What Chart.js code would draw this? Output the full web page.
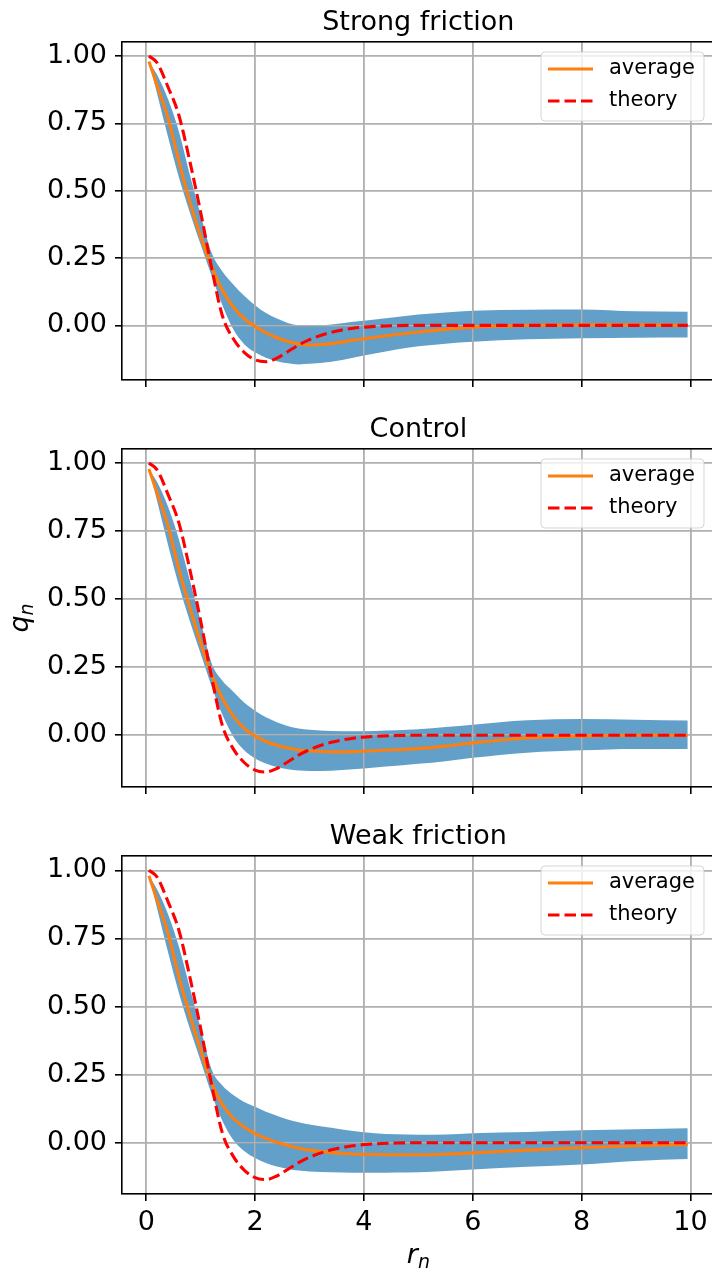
<!DOCTYPE html>
<html>
<head>
<meta charset="utf-8">
<script src="https://cdn.jsdelivr.net/npm/chart.js@4.4.1/dist/chart.umd.min.js"></script>
<style>
  body { margin: 0; background: #fff; }
  #fig { position: relative; width: 712px; height: 1272px; overflow: hidden; background: #fff; }
  #fig canvas { position: absolute; left: 0; }
</style>
</head>
<body>
<div id="fig">
  <canvas id="strongChart" width="716" height="407" style="top:0px"></canvas>
  <canvas id="controlChart" width="716" height="407" style="top:407px"></canvas>
  <canvas id="weakChart" width="716" height="458" style="top:814px"></canvas>
</div>
<script>
// r_n sample positions (shared by every panel)
const rValues = [0.05, 0.2, 0.4, 0.6, 0.8, 1.0, 1.2, 1.4, 1.6, 1.8, 2.0, 2.2, 2.4, 2.6, 2.8, 3.0,
                 3.4, 3.8, 4.2, 4.6, 5.0, 5.5, 6.0, 7.0, 8.0, 9.0, 9.95];

// theory curve, same in all three panels
const theory = [1.0, 0.975, 0.885, 0.78, 0.61, 0.42, 0.215, 0.035, -0.05, -0.10, -0.128, -0.135, -0.122, -0.098, -0.073, -0.053,
                -0.026, -0.011, -0.004, -0.001, 0, 0, 0, 0, 0, 0, 0];

// Strong friction
const strongAvg = [0.98, 0.89, 0.77, 0.61, 0.46, 0.33, 0.22, 0.13, 0.068, 0.025, -0.004, -0.028, -0.046, -0.06, -0.069, -0.073,
                   -0.068, -0.055, -0.044, -0.034, -0.025, -0.015, -0.007, 0.0, 0.002, 0.002, 0.0];
const strongUpper = [0.98, 0.93, 0.84, 0.72, 0.56, 0.41, 0.27, 0.20, 0.152, 0.11, 0.075, 0.046, 0.025, 0.009, 0.0, -0.002,
                     0.003, 0.013, 0.022, 0.031, 0.04, 0.048, 0.054, 0.058, 0.059, 0.052, 0.05];
const strongLower = [0.98, 0.86, 0.70, 0.55, 0.42, 0.30, 0.185, 0.075, -0.015, -0.07, -0.10, -0.12, -0.133, -0.141, -0.145, -0.143,
                     -0.135, -0.12, -0.105, -0.09, -0.078, -0.068, -0.061, -0.052, -0.048, -0.046, -0.045];

// Control
const controlAvg = [0.978, 0.89, 0.77, 0.61, 0.47, 0.34, 0.225, 0.135, 0.07, 0.025, -0.003, -0.023, -0.037, -0.047, -0.054, -0.058,
                    -0.061, -0.06, -0.057, -0.053, -0.049, -0.04, -0.028, -0.01, -0.003, 0.0, 0.0];
const controlUpper = [0.978, 0.93, 0.84, 0.72, 0.57, 0.42, 0.265, 0.20, 0.16, 0.12, 0.09, 0.066, 0.048, 0.034, 0.025, 0.02,
                      0.016, 0.015, 0.016, 0.018, 0.022, 0.03, 0.039, 0.055, 0.06, 0.057, 0.054];
const controlLower = [0.978, 0.86, 0.70, 0.55, 0.42, 0.30, 0.18, 0.075, -0.005, -0.055, -0.085, -0.104, -0.117, -0.125, -0.129, -0.131,
                      -0.13, -0.125, -0.118, -0.112, -0.105, -0.095, -0.083, -0.064, -0.055, -0.05, -0.05];

// Weak friction
const weakAvg = [0.98, 0.89, 0.77, 0.61, 0.47, 0.34, 0.22, 0.14, 0.09, 0.058, 0.034, 0.016, 0.002, -0.01, -0.02, -0.027,
                 -0.036, -0.041, -0.043, -0.044, -0.044, -0.042, -0.037, -0.027, -0.018, -0.011, -0.006];
const weakUpper = [0.98, 0.93, 0.84, 0.72, 0.57, 0.42, 0.27, 0.21, 0.175, 0.15, 0.132, 0.114, 0.099, 0.085, 0.075, 0.067,
                   0.055, 0.043, 0.035, 0.031, 0.029, 0.03, 0.035, 0.04, 0.046, 0.05, 0.053];
const weakLower = [0.98, 0.86, 0.70, 0.55, 0.42, 0.30, 0.18, 0.08, 0.01, -0.03, -0.056, -0.074, -0.087, -0.096, -0.102, -0.105,
                   -0.108, -0.11, -0.11, -0.109, -0.108, -0.104, -0.098, -0.088, -0.08, -0.067, -0.06];

const xTicks = [0, 2, 4, 6, 8, 10];
const yTicks = [0, 0.25, 0.5, 0.75, 1.0];

const FONT = '"DejaVu Sans", sans-serif';
const GRID = '#b0b0b0';
const LW = 1.6;

function toPoints(ys) {
    return rValues.map((r, i) => ({ x: r, y: ys[i] }));
}

function alignPx(p, w) {
    const h = w / 2;
    return Math.round(p - h) + h;
}

// title, spines, legend, axis labels, and matplotlib-style grid over the band
function makeDecor(title, drawXLabel, drawYLabel) {
    return {
        id: 'panelDecor',
        afterDatasetDraw(chart, args) {
            if (args.index !== 2) return;
            const { ctx, chartArea: a, scales } = chart;
            ctx.save();
            ctx.beginPath();
            ctx.rect(a.left, a.top, a.right - a.left, a.bottom - a.top);
            ctx.clip();
            ctx.strokeStyle = GRID;
            ctx.lineWidth = LW;
            ctx.beginPath();
            xTicks.forEach(v => {
                const px = alignPx(scales.x.getPixelForValue(v), LW);
                ctx.moveTo(px, a.top);
                ctx.lineTo(px, a.bottom);
            });
            yTicks.forEach(v => {
                const py = alignPx(scales.y.getPixelForValue(v), LW);
                ctx.moveTo(a.left, py);
                ctx.lineTo(a.right, py);
            });
            ctx.stroke();
            ctx.restore();
        },
        afterDraw(chart) {
            const { ctx, chartArea: a } = chart;
            ctx.save();

            // spines
            ctx.strokeStyle = '#000';
            ctx.lineWidth = LW;
            ctx.strokeRect(alignPx(a.left, LW), alignPx(a.top, LW), a.right - a.left, alignPx(a.bottom, LW) - alignPx(a.top, LW));

            // title
            ctx.fillStyle = '#000';
            ctx.font = '27px ' + FONT;
            ctx.textAlign = 'center';
            ctx.textBaseline = 'alphabetic';
            ctx.fillText(title, (a.left + a.right) / 2, a.top - 12.5);

            // legend
            const lw = 163, lh = 69;
            const lx = a.right - 10.7 - lw, ly = a.top + 10, r = 4;
            ctx.beginPath();
            ctx.moveTo(lx + r, ly);
            ctx.arcTo(lx + lw, ly, lx + lw, ly + lh, r);
            ctx.arcTo(lx + lw, ly + lh, lx, ly + lh, r);
            ctx.arcTo(lx, ly + lh, lx, ly, r);
            ctx.arcTo(lx, ly, lx + lw, ly, r);
            ctx.closePath();
            ctx.fillStyle = 'rgba(255,255,255,0.8)';
            ctx.fill();
            ctx.strokeStyle = 'rgba(204,204,204,0.8)';
            ctx.lineWidth = 1;
            ctx.stroke();

            ctx.lineWidth = 3.1;
            ctx.strokeStyle = '#ff7f0e';
            ctx.beginPath();
            ctx.moveTo(lx + 7, ly + 17);
            ctx.lineTo(lx + 52, ly + 17);
            ctx.stroke();
            ctx.strokeStyle = '#ff0000';
            ctx.setLineDash([11.5, 5]);
            ctx.beginPath();
            ctx.moveTo(lx + 7, ly + 49);
            ctx.lineTo(lx + 52, ly + 49);
            ctx.stroke();
            ctx.setLineDash([]);

            ctx.fillStyle = '#000';
            ctx.font = '21px ' + FONT;
            ctx.textAlign = 'left';
            ctx.textBaseline = 'middle';
            ctx.fillText('average', lx + 68, ly + 17);
            ctx.fillText('theory', lx + 68, ly + 49);

            // axis labels (mathtext-like r_n, q_n)
            ctx.textBaseline = 'alphabetic';
            if (drawXLabel) {
                const cx = (a.left + a.right) / 2;
                ctx.font = 'italic 27px ' + FONT;
                const w1 = ctx.measureText('r').width;
                ctx.font = 'italic 19px ' + FONT;
                const w2 = ctx.measureText('n').width;
                const x0 = cx - (w1 + w2) / 2;
                const by = a.bottom + 69;
                ctx.font = 'italic 27px ' + FONT;
                ctx.fillText('r', x0, by);
                ctx.font = 'italic 19px ' + FONT;
                ctx.fillText('n', x0 + w1, by + 5);
            }
            if (drawYLabel) {
                const cy = (a.top + a.bottom) / 2;
                ctx.translate(28, cy);
                ctx.rotate(-Math.PI / 2);
                ctx.font = 'italic 27px ' + FONT;
                const w1 = ctx.measureText('q').width;
                ctx.font = 'italic 19px ' + FONT;
                const w2 = ctx.measureText('n').width;
                const x0 = -(w1 + w2) / 2;
                ctx.font = 'italic 27px ' + FONT;
                ctx.fillText('q', x0, 0);
                ctx.font = 'italic 19px ' + FONT;
                ctx.fillText('n', x0 + w1, 5);
            }
            ctx.restore();
        }
    };
}

function makePanel(canvasId, title, avg, upper, lower, yMin, yMax, showXTicks, xLabel, yLabel) {
    const canvas = document.getElementById(canvasId);
    const xAxisHeight = canvas.height - 380;

    new Chart(canvas.getContext('2d'), {
        type: 'line',
        data: {
            datasets: [
                {
                    label: 'theory',
                    data: toPoints(theory),
                    borderColor: '#ff0000',
                    borderWidth: 3.1,
                    borderDash: [11.5, 5],
                    fill: false,
                    pointRadius: 0,
                    cubicInterpolationMode: 'monotone'
                },
                {
                    label: 'average',
                    data: toPoints(avg),
                    borderColor: '#ff7f0e',
                    borderWidth: 3.1,
                    fill: false,
                    pointRadius: 0,
                    cubicInterpolationMode: 'monotone'
                },
                {
                    label: 'upper',
                    data: toPoints(upper),
                    borderColor: 'rgba(0,0,0,0)',
                    borderWidth: 0,
                    backgroundColor: 'rgba(31,119,180,0.7)',
                    fill: '+1',
                    pointRadius: 0,
                    cubicInterpolationMode: 'monotone'
                },
                {
                    label: 'lower',
                    data: toPoints(lower),
                    borderColor: 'rgba(0,0,0,0)',
                    borderWidth: 0,
                    fill: false,
                    pointRadius: 0,
                    cubicInterpolationMode: 'monotone'
                }
            ]
        },
        options: {
            responsive: false,
            animation: false,
            devicePixelRatio: 1,
            layout: {
                padding: { top: 42, left: 0, right: 1.3, bottom: 0 }
            },
            plugins: {
                legend: { display: false },
                title: { display: false },
                tooltip: { enabled: false }
            },
            scales: {
                x: {
                    type: 'linear',
                    min: -0.445,
                    max: 10.445,
                    afterBuildTicks: s => { s.ticks = xTicks.map(v => ({ value: v })); },
                    afterFit: s => { s.height = xAxisHeight; s.paddingLeft = 0; s.paddingRight = 0; },
                    border: { display: false },
                    grid: {
                        color: GRID,
                        lineWidth: LW,
                        tickColor: '#000',
                        tickWidth: LW,
                        tickLength: 7,
                        drawTicks: true
                    },
                    ticks: {
                        display: showXTicks,
                        color: '#000',
                        font: { family: FONT, size: 27 },
                        padding: 6,
                        maxRotation: 0,
                        autoSkip: false,
                        callback: v => String(v)
                    }
                },
                y: {
                    type: 'linear',
                    min: yMin,
                    max: yMax,
                    afterBuildTicks: s => { s.ticks = yTicks.map(v => ({ value: v })); },
                    afterFit: s => { s.width = 122; s.paddingTop = 0; s.paddingBottom = 0; },
                    border: { display: false },
                    grid: {
                        color: GRID,
                        lineWidth: LW,
                        tickColor: '#000',
                        tickWidth: LW,
                        tickLength: 7,
                        drawTicks: true
                    },
                    ticks: {
                        color: '#000',
                        font: { family: FONT, size: 27 },
                        padding: 8,
                        autoSkip: false,
                        callback: v => v.toFixed(2)
                    }
                }
            }
        },
        plugins: [makeDecor(title, xLabel, yLabel)]
    });
}

makePanel('strongChart', 'Strong friction', strongAvg, strongUpper, strongLower, -0.203, 1.052, false, false, false);
makePanel('controlChart', 'Control', controlAvg, controlUpper, controlLower, -0.19, 1.0514, false, false, true);
makePanel('weakChart', 'Weak friction', weakAvg, weakUpper, weakLower, -0.188, 1.0525, true, true, false);
</script>
</body>
</html>
